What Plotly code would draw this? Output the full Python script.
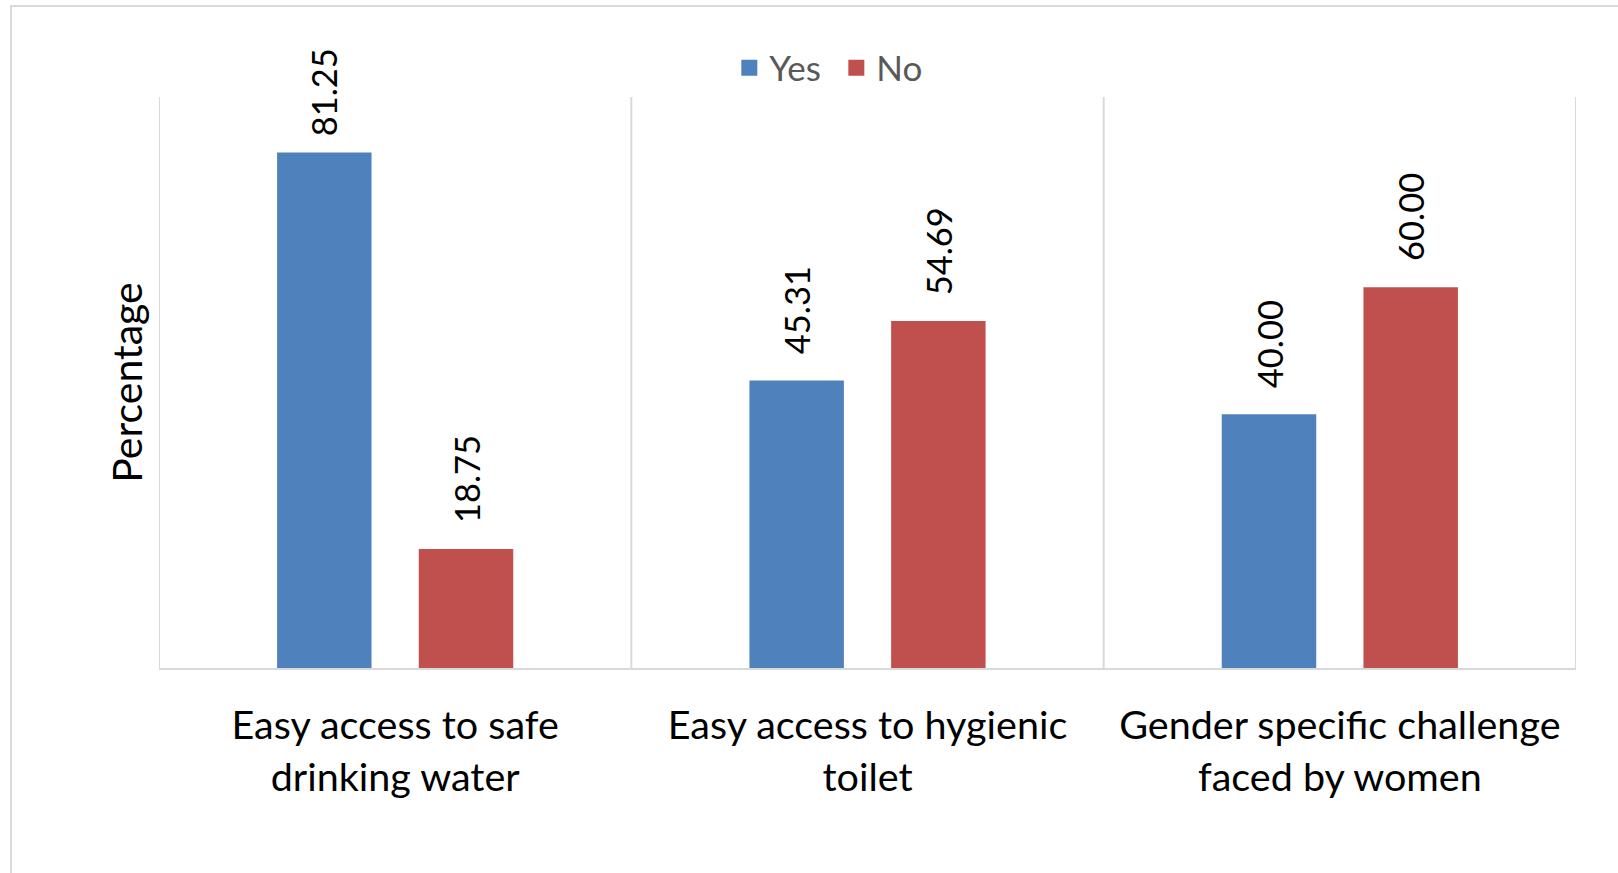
import plotly.graph_objects as go

categories = ["Easy access to safe<br>drinking water",
              "Easy access to hygienic<br>toilet",
              "Gender specific challenge<br>faced by women"]
yes_values = [81.25, 45.31, 40.00]
no_values = [18.75, 54.69, 60.00]
series_names = ["Yes", "No"]
colors = ["#4F81BD", "#C0504D"]

W, H = 1618, 873
L, R, T, B = 159, 42, 97, 205
FONT = "Lato"
YMAX = 90
plot_h = H - T - B

fig = go.Figure()
idx = list(range(len(categories)))
for name, vals, col, off in [(series_names[0], yes_values, colors[0], -0.25),
                             (series_names[1], no_values, colors[1], 0.05)]:
    fig.add_trace(go.Bar(x=idx, y=vals, name=name, marker_color=col,
                         marker_line_width=0, width=0.2, offset=off, showlegend=False))
    # legend entry with a larger square swatch
    fig.add_trace(go.Scatter(x=[None], y=[None], mode="markers", name=name,
                             marker=dict(symbol="square", size=20, color=col)))
    for i, v in zip(idx, vals):
        bar_top_px = T + (YMAX - v) / YMAX * plot_h
        shift = min(24, bar_top_px - 138)  # keep label inside chart area
        fig.add_annotation(x=i + off + 0.1, y=v, xref="x", yref="y",
                           text=f"{v:.2f}", textangle=-90, showarrow=False,
                           xanchor="center", yanchor="bottom", yshift=shift,
                           font=dict(family=FONT, size=34.5, color="#000000"))

fig.update_layout(
    width=W, height=H,
    margin=dict(l=L, r=R, t=T, b=B),
    plot_bgcolor="white", paper_bgcolor="white",
    barmode="group",
    font=dict(family=FONT, color="#000000"),
    legend=dict(orientation="h", x=0.478, xanchor="center", y=1.051, yanchor="middle",
                font=dict(family=FONT, size=35, color="#595959"),
                bgcolor="rgba(0,0,0,0)", itemwidth=30, itemsizing="trace",
                tracegroupgap=0, entrywidth=62, entrywidthmode="pixels"),
    showlegend=True,
)
fig.update_xaxes(
    type="linear", tickmode="array", tickvals=idx, ticktext=categories,
    range=[-0.5, 2.5], showgrid=False, zeroline=False,
    showline=True, linecolor="#D9D9D9", linewidth=2,
    ticks="", ticklabelstandoff=22,
    tickfont=dict(family=FONT, size=39.5, color="#000000"),
)
for b in [-0.5, 0.5, 1.5, 2.5]:
    fig.add_shape(type="line", xref="x", yref="paper", x0=b, x1=b, y0=0, y1=1,
                  line=dict(color="#D9D9D9", width=2), layer="below")
fig.update_yaxes(
    range=[0, YMAX], showgrid=False, zeroline=False, showticklabels=False,
    showline=False, ticks="",
    title=dict(text="Percentage", standoff=2, font=dict(family=FONT, size=41, color="#000000")),
)
# outer chart border
fig.add_shape(type="rect", xref="paper", yref="paper",
              x0=(11 - L) / (W - L - R), x1=1.2, y0=-0.6, y1=1 + (T - 6) / plot_h,
              line=dict(color="#D9D9D9", width=2), fillcolor="rgba(0,0,0,0)", layer="below")

fig.write_html("out.html")
